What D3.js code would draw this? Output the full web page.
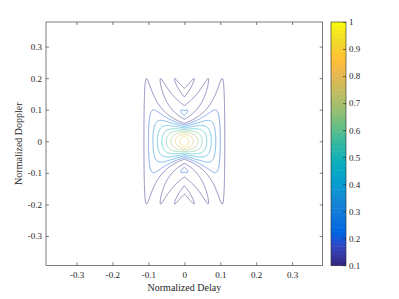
<!DOCTYPE html>
<html>
<head>
<meta charset="utf-8">
<script src="https://cdn.jsdelivr.net/npm/d3@7"></script>
<style>
  body { margin: 0; background: #fff; }
  svg text { font-family: "Liberation Serif", "Times New Roman", serif; fill: #262626; }
</style>
</head>
<body>
<script>
const w = 399; // width
const h = 299; // height

// transmitted pulse: 16 unit samples (rectangular pulse)
const pulse = [1, 1, 1, 1, 1, 1, 1, 1, 1, 1, 1, 1, 1, 1, 1, 1];
const delayStep = 1 / 128; // normalized delay of one sample

// contour levels and ticks
const levels = [0.1, 0.2, 0.3, 0.4, 0.5, 0.6, 0.7, 0.8, 0.9];
const xTicks = [-0.3, -0.2, -0.1, 0, 0.1, 0.2, 0.3];
const yTicks = [-0.3, -0.2, -0.1, 0, 0.1, 0.2, 0.3];
const cTicks = [0.1, 0.2, 0.3, 0.4, 0.5, 0.6, 0.7, 0.8, 0.9, 1];

// axis limits
const xDomain = [-0.385, 0.385];
const yDomain = [-0.393, 0.378];
const cDomain = [0.1, 1];

// parula colormap (64 entries)
const parula = ["#352a87", "#363093", "#3637a0", "#353dad", "#3243ba", "#2c4ac7", "#2053d4", "#0f5cdd",
  "#0363e1", "#0268e1", "#046de0", "#0871de", "#0d75dc", "#1079da", "#127dd8", "#1481d6",
  "#1485d4", "#1389d3", "#108ed2", "#0c93d2", "#0998d1", "#079ccf", "#06a0cd", "#06a4ca",
  "#06a7c6", "#07a9c2", "#0aacbe", "#0faeb9", "#15b1b4", "#1db3af", "#25b5a9", "#2eb7a4",
  "#38b99e", "#42bb98", "#4dbc92", "#59bd8c", "#65be86", "#71bf80", "#7cbf7b", "#87bf77",
  "#92bf73", "#9cbf6f", "#a5be6b", "#aebe67", "#b7bd64", "#c0bc60", "#c8bc5d", "#d1bb59",
  "#d9ba56", "#e1b952", "#e9b94e", "#f1b94a", "#f8bb44", "#fdbd3c", "#fec135", "#fcc633",
  "#f9cc30", "#f5d12e", "#f3d72a", "#f2dc27", "#f3e223", "#f5e81e", "#f9ee19", "#f9fb0e"];

// plot box
const pLeft = 46, pRight = 322.7, pTop = 22, pBottom = 265.3;
const cbLeft = 331, cbRight = 346;

let svg = d3.select("body")
    .append("svg")
    .attr("width", w)
    .attr("height", h);

let x = d3.scaleLinear().domain(xDomain).range([pLeft, pRight]);
let y = d3.scaleLinear().domain(yDomain).range([pBottom, pTop]);
let c = d3.scaleLinear().domain(cDomain).range([pBottom, pTop]);
let color = d3.scaleSequential(d3.piecewise(d3.interpolateRgb, parula)).domain(cDomain);

// ambiguity |chi(tau, f)| of the piecewise constant pulse
const energy = d3.sum(pulse, (v) => v * v);
function ambiguity(tauS, f) {
    const n = pulse.length;
    let re = 0, im = 0;
    const k = 2 * Math.PI * f;
    for (let i = 0; i < n; i++) {
        for (let m = Math.floor(i + tauS); m <= Math.floor(i + 1 + tauS); m++) {
            if (m < 0 || m >= n) continue;
            const a = Math.max(i, m - tauS), b = Math.min(i + 1, m + 1 - tauS);
            if (b <= a) continue;
            const wgt = pulse[i] * pulse[m];
            if (Math.abs(k) < 1e-12) {
                re += wgt * (b - a);
            } else {
                re += wgt * (Math.sin(k * b) - Math.sin(k * a)) / k;
                im += wgt * (Math.cos(k * a) - Math.cos(k * b)) / k;
            }
        }
    }
    return Math.hypot(re, im) / energy;
}

// grid over delay / doppler
const tau0 = -0.15, dTau = 0.001, nx = 301;
const f0 = -0.25, dF = 0.002, ny = 251;
let grid = new Float64Array(nx * ny);
for (let j = 0; j < ny; j++) {
    const f = f0 + j * dF;
    for (let i = 0; i < nx; i++) {
        grid[j * nx + i] = ambiguity((tau0 + i * dTau) / delayStep, f);
    }
}

let contours = d3.contours().size([nx, ny]).thresholds(levels)(grid);
const toScreen = ([cx, cy]) => [x(tau0 + (cx - 0.5) * dTau), y(f0 + (cy - 0.5) * dF)];
contours.forEach((ct) => {
    ct.coordinates = ct.coordinates.map((poly) => poly.map((ring) => ring.map(toScreen)));
});

let path = d3.geoPath();
svg.append("g")
    .selectAll("path")
    .data(contours)
    .enter()
    .append("path")
    .attr("d", path)
    .attr("fill", "none")
    .attr("stroke", (d) => color(d.value))
    .attr("stroke-width", 0.6)
    .attr("stroke-opacity", 0.85);

// axes (ticks inside, on all four sides)
const fmt = (d) => String(d);
svg.append("g")
    .attr("class", "x-axis")
    .attr("transform", `translate(0,${pBottom})`)
    .call(d3.axisBottom(x).tickValues(xTicks).tickSize(-3).tickPadding(6).tickFormat(fmt));
svg.append("g")
    .attr("transform", `translate(0,${pTop})`)
    .call(d3.axisTop(x).tickValues(xTicks).tickSize(-3).tickFormat(""));
svg.append("g")
    .attr("class", "y-axis")
    .attr("transform", `translate(${pLeft},0)`)
    .call(d3.axisLeft(y).tickValues(yTicks).tickSize(-3).tickPadding(4).tickFormat(fmt));
svg.append("g")
    .attr("transform", `translate(${pRight},0)`)
    .call(d3.axisRight(y).tickValues(yTicks).tickSize(-3).tickFormat(""));

svg.selectAll(".domain").remove();
svg.append("rect")
    .attr("x", pLeft).attr("y", pTop)
    .attr("width", pRight - pLeft).attr("height", pBottom - pTop)
    .attr("fill", "none").attr("stroke", "#262626").attr("stroke-width", 0.6);

svg.selectAll(".tick line").attr("stroke", "#262626").attr("stroke-width", 0.6);
svg.selectAll(".tick text").attr("font-size", 9).attr("fill", "#262626");

// axis labels
svg.append("text")
    .attr("text-anchor", "middle")
    .attr("x", (pLeft + pRight) / 2)
    .attr("y", 290.5)
    .attr("font-size", 10)
    .text("Normalized Delay");

svg.append("text")
    .attr("text-anchor", "middle")
    .attr("transform", `translate(22,${(pTop + pBottom) / 2}) rotate(-90)`)
    .attr("font-size", 10)
    .text("Normalized Doppler");

// colorbar
const step = (cDomain[1] - cDomain[0]) / parula.length;
svg.append("g")
    .selectAll("rect")
    .data(parula)
    .enter()
    .append("rect")
    .attr("x", cbLeft)
    .attr("width", cbRight - cbLeft)
    .attr("y", (d, i) => c(cDomain[0] + (i + 1) * step))
    .attr("height", (d, i) => c(cDomain[0] + i * step) - c(cDomain[0] + (i + 1) * step) + 0.5)
    .attr("fill", (d) => d);

let gC = svg.append("g")
    .attr("transform", `translate(${cbRight},0)`)
    .call(d3.axisRight(c).tickValues(cTicks).tickSize(-3).tickPadding(3).tickFormat(fmt));
gC.select(".domain").remove();
gC.selectAll(".tick line").attr("stroke", "#262626").attr("stroke-width", 0.6);
gC.selectAll(".tick text").attr("font-size", 9).attr("fill", "#262626");

svg.append("rect")
    .attr("x", cbLeft).attr("y", pTop)
    .attr("width", cbRight - cbLeft).attr("height", pBottom - pTop)
    .attr("fill", "none").attr("stroke", "#262626").attr("stroke-width", 0.6);
</script>
</body>
</html>
